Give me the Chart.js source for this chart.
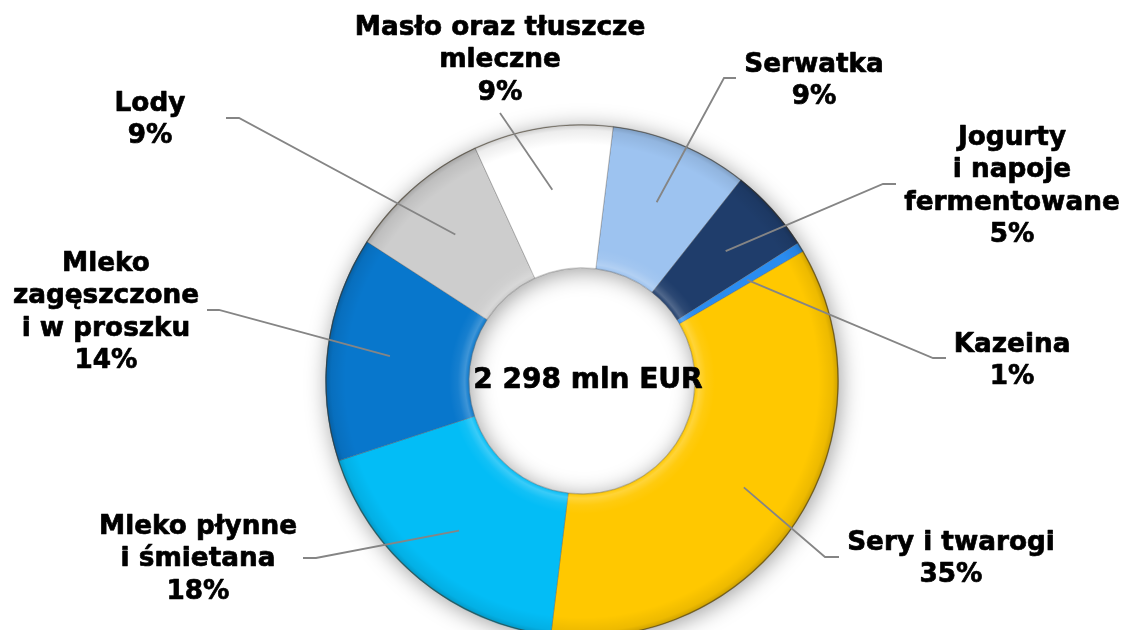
<!DOCTYPE html>
<html>
<head>
<meta charset="utf-8">
<script src="https://cdn.jsdelivr.net/npm/chart.js@4/dist/chart.umd.min.js"></script>
<style>
  html, body { margin: 0; padding: 0; background: #ffffff; overflow: hidden; }
  #wrap { width: 1125px; height: 640px; position: relative; }
</style>
</head>
<body>
<div id="wrap"><canvas id="c" width="1125" height="640"></canvas></div>
<script>
// ---- data ----
const categories = [
  ["Serwatka"],
  ["Jogurty", "i napoje", "fermentowane"],
  ["Kazeina"],
  ["Sery i twarogi"],
  ["Mleko płynne", "i śmietana"],
  ["Mleko", "zagęszczone", "i w proszku"],
  ["Lody"],
  ["Masło oraz tłuszcze", "mleczne"]
];
const valuesMlnEur = [200, 122, 14, 813, 414, 326, 207, 202];
const totalLabel = "2 298 mln EUR";
const sliceColors = ["#9DC3F0", "#1F3D6B", "#2A8CF0", "#FFC800", "#03BDF6", "#0877CC", "#CDCDCD", "#FFFFFF"];

// ---- layout (label placement) ----
const labelPos = [
  { x: 814, y: 65 },
  { x: 1012, y: 138 },
  { x: 1012, y: 345 },
  { x: 951, y: 543 },
  { x: 198, y: 527 },
  { x: 106, y: 264 },
  { x: 150, y: 104 },
  { x: 500, y: 28 }
];
const leaderPath = [
  [[724, 78], [736, 78]],
  [[883, 184], [896, 184]],
  [[933, 358], [946, 358]],
  [[825, 557], [839, 557]],
  [[316, 558], [303, 558]],
  [[219, 310], [207, 310]],
  [[239, 118], [226, 118]],
  [[500, 113]]
];
const LINE_H = 32.5;
const LABEL_FONT = 'bold 26.3px "DejaVu Sans", Verdana, sans-serif';
const CENTER_FONT = 'bold 28px "DejaVu Sans", Verdana, sans-serif';

const total = valuesMlnEur.reduce((a, b) => a + b, 0);

const ringShadow = {
  id: 'ringShadow',
  beforeDatasetsDraw(chart) {
    const meta = chart.getDatasetMeta(0);
    const arc = meta.data[0];
    if (!arc) return;
    const { x, y, outerRadius, innerRadius } = arc.getProps(['x', 'y', 'outerRadius', 'innerRadius'], true);
    const ctx = chart.ctx;
    ctx.save();
    ctx.beginPath();
    ctx.arc(x, y, outerRadius, 0, Math.PI * 2);
    ctx.arc(x, y, innerRadius, 0, Math.PI * 2, true);
    ctx.closePath();
    ctx.shadowColor = 'rgba(0,0,0,0.38)';
    ctx.shadowBlur = 22;
    ctx.shadowOffsetX = 2;
    ctx.shadowOffsetY = 3;
    ctx.fillStyle = '#ffffff';
    ctx.fill();
    ctx.restore();
  },
  afterDatasetsDraw(chart) {
    const meta = chart.getDatasetMeta(0);
    const arc = meta.data[0];
    if (!arc) return;
    const { x, y, outerRadius, innerRadius } = arc.getProps(['x', 'y', 'outerRadius', 'innerRadius'], true);
    const ctx = chart.ctx;
    ctx.save();
    const g = ctx.createRadialGradient(x, y, innerRadius, x, y, outerRadius);
    g.addColorStop(0, 'rgba(255,255,255,0.0)');
    g.addColorStop(0.03, 'rgba(255,255,255,0.22)');
    g.addColorStop(0.08, 'rgba(255,255,255,0.06)');
    g.addColorStop(0.14, 'rgba(255,255,255,0)');
    g.addColorStop(0.86, 'rgba(0,0,0,0)');
    g.addColorStop(0.96, 'rgba(0,0,0,0.07)');
    g.addColorStop(1, 'rgba(0,0,0,0.2)');
    ctx.beginPath();
    ctx.arc(x, y, outerRadius, 0, Math.PI * 2);
    ctx.arc(x, y, innerRadius, 0, Math.PI * 2, true);
    ctx.closePath();
    ctx.fillStyle = g;
    ctx.fill();
    ctx.beginPath();
    ctx.arc(x, y, outerRadius - 0.5, 0, Math.PI * 2);
    ctx.strokeStyle = 'rgba(60,50,30,0.55)';
    ctx.lineWidth = 1.2;
    ctx.stroke();
    ctx.beginPath();
    ctx.arc(x, y, innerRadius + 0.5, 0, Math.PI * 2);
    ctx.strokeStyle = 'rgba(120,120,120,0.3)';
    ctx.lineWidth = 1;
    ctx.stroke();
    ctx.restore();
  }
};

const labelsPlugin = {
  id: 'outLabels',
  afterDraw(chart) {
    const ctx = chart.ctx;
    const meta = chart.getDatasetMeta(0);
    ctx.save();
    meta.data.forEach((arc, i) => {
      const p = arc.getProps(['x', 'y', 'startAngle', 'endAngle', 'outerRadius'], true);
      const mid = (p.startAngle + p.endAngle) / 2;
      const r = p.outerRadius * 0.755;
      const sx = p.x + Math.cos(mid) * r;
      const sy = p.y + Math.sin(mid) * r;
      ctx.beginPath();
      ctx.moveTo(sx, sy);
      leaderPath[i].forEach(pt => ctx.lineTo(pt[0], pt[1]));
      ctx.strokeStyle = '#858585';
      ctx.lineWidth = 1.8;
      ctx.stroke();
    });
    ctx.fillStyle = '#000000';
    ctx.strokeStyle = '#000000';
    ctx.lineWidth = 0.7;
    ctx.lineJoin = 'round';
    ctx.font = LABEL_FONT;
    ctx.textAlign = 'center';
    ctx.textBaseline = 'middle';
    categories.forEach((lines, i) => {
      const pct = Math.round(valuesMlnEur[i] / total * 100) + '%';
      const all = lines.concat([pct]);
      all.forEach((t, k) => {
        ctx.fillText(t, labelPos[i].x, labelPos[i].y + k * LINE_H);
        ctx.strokeText(t, labelPos[i].x, labelPos[i].y + k * LINE_H);
      });
    });
    ctx.font = CENTER_FONT;
    const a0 = meta.data[0].getProps(['x', 'y'], true);
    ctx.fillText(totalLabel, a0.x + 6, a0.y);
    ctx.strokeText(totalLabel, a0.x + 6, a0.y);
    ctx.restore();
  }
};

new Chart(document.getElementById('c'), {
  type: 'doughnut',
  data: {
    labels: categories.map(l => l.join(' ')),
    datasets: [{
      data: valuesMlnEur,
      backgroundColor: sliceColors,
      borderColor: 'rgba(90,90,90,0.35)',
      borderWidth: 1,
      hoverOffset: 0
    }]
  },
  options: {
    responsive: false,
    devicePixelRatio: 1,
    animation: false,
    rotation: 7,
    cutout: '44%',
    layout: { padding: { left: 325, right: 286, top: 124, bottom: 2 } },
    plugins: {
      legend: { display: false },
      tooltip: { enabled: false }
    }
  },
  plugins: [ringShadow, labelsPlugin]
});
</script>
</body>
</html>
